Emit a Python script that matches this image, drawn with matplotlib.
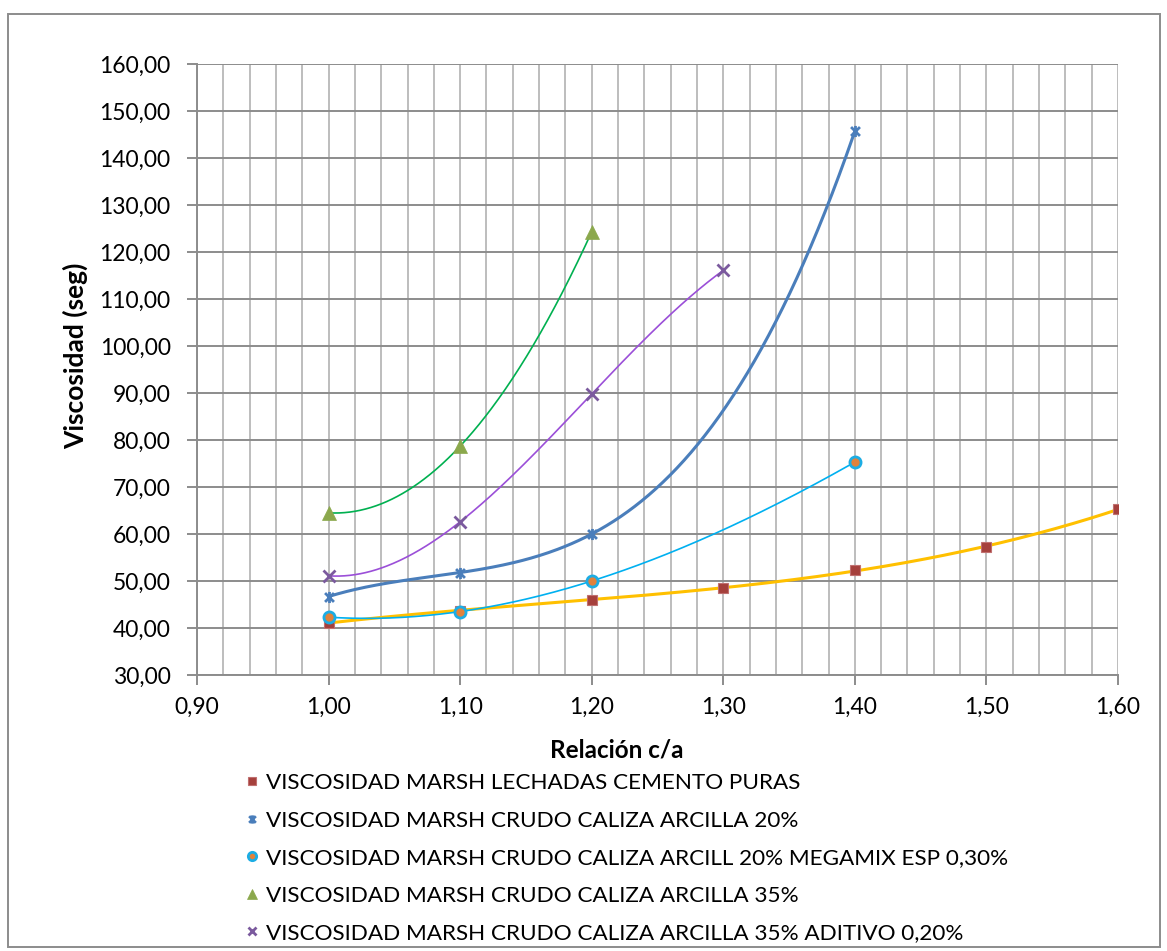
import numpy as np
import matplotlib
matplotlib.use("Agg")
import matplotlib.pyplot as plt
from matplotlib.path import Path
from matplotlib.ticker import FuncFormatter, MultipleLocator
from matplotlib.patches import Rectangle

plt.rcParams['font.family'] = ['Lato', 'DejaVu Sans']

# Marsh viscosity (seconds) against cement/water ratio
x_puras = [1.00, 1.10, 1.20, 1.30, 1.40, 1.50, 1.60]
y_puras = [41.1, 43.7, 46.0, 48.6, 52.3, 57.2, 65.3]

x_arc20 = [1.00, 1.10, 1.20, 1.40]
y_arc20 = [46.7, 51.8, 60.0, 145.7]

x_mega = [1.00, 1.10, 1.20, 1.40]
y_mega = [42.3, 43.5, 50.0, 75.3]

x_arc35 = [1.00, 1.10, 1.20]
y_arc35 = [64.5, 78.7, 124.3]

x_adit = [1.00, 1.10, 1.20, 1.30]
y_adit = [51.1, 62.6, 89.8, 116.1]

labels = [
    "VISCOSIDAD MARSH LECHADAS CEMENTO PURAS",
    "VISCOSIDAD MARSH CRUDO CALIZA ARCILLA 20%",
    "VISCOSIDAD MARSH CRUDO CALIZA ARCILL 20% MEGAMIX ESP 0,30%",
    "VISCOSIDAD MARSH CRUDO CALIZA ARCILLA 35%",
    "VISCOSIDAD MARSH CRUDO CALIZA ARCILLA 35% ADITIVO 0,20%",
]

# star marker: an x with a vertical bar through it
star = Path([(-1, -1), (1, 1), (-1, 1), (1, -1), (0, -1.25), (0, 1.25)],
            [Path.MOVETO, Path.LINETO, Path.MOVETO, Path.LINETO, Path.MOVETO, Path.LINETO])

series = [
    # x, y, trend degree, trend colour, trend width, marker kwargs
    (x_puras, y_puras, 3, '#FFC000', 2.2,
     dict(marker='s', ms=7.5, mfc='#A5403C', mec='#C07070', mew=0.8)),
    (x_arc20, y_arc20, 3, '#4A7EBB', 2.2,
     dict(marker=star, ms=8, mfc='none', mec='#4A7EBB', mew=2.0)),
    (x_mega, y_mega, 3, '#00B0F0', 1.2,
     dict(marker='o', ms=8, mfc='#E0823C', mec='#1CADE4', mew=2.0)),
    (x_arc35, y_arc35, 2, '#00B050', 1.2,
     dict(marker='^', ms=9.5, mfc='#8BA84C', mec='#8BA84C', mew=0.5)),
    (x_adit, y_adit, 3, '#9B4FD8', 1.2,
     dict(marker='x', ms=8, mfc='none', mec='#7B5A9E', mew=2.0)),
]

W, H = 1167, 951
fig = plt.figure(figsize=(W / 100, H / 100), dpi=100)
ax = fig.add_axes([197 / W, 1 - 675 / H, 921 / W, 611 / H])

handles = []
for (xs, ys, deg, tcol, tw, mk), lab in zip(series, labels):
    coef = np.polyfit(xs, ys, deg)
    xx = np.linspace(min(xs), max(xs), 300)
    ax.plot(xx, np.polyval(coef, xx), color=tcol, lw=tw, zorder=3)
    h, = ax.plot(xs, ys, ls='none', zorder=4, label=lab, **mk)
    handles.append(h)

ax.set_xlim(0.90, 1.60)
ax.set_ylim(30, 160)
ax.xaxis.set_major_locator(MultipleLocator(0.10))
ax.xaxis.set_minor_locator(MultipleLocator(0.02))
ax.yaxis.set_major_locator(MultipleLocator(10))
fmt = FuncFormatter(lambda v, p: f"{v:.2f}".replace('.', ','))
ax.xaxis.set_major_formatter(fmt)
ax.yaxis.set_major_formatter(fmt)

ax.grid(axis='y', which='major', color='#8C8C8C', lw=1.4)
ax.grid(axis='x', which='both', color='#BDBDBD', lw=1.4)
ax.set_axisbelow(True)
for s in ['top', 'right']:
    ax.spines[s].set_visible(False)
for s in ['left', 'bottom']:
    ax.spines[s].set_color('#8C8C8C')
    ax.spines[s].set_linewidth(1.4)
ax.tick_params(axis='both', which='major', direction='out', length=7, width=1.4,
               color='#8C8C8C', labelsize=16.5)
ax.tick_params(axis='y', pad=12)
ax.tick_params(axis='x', pad=9)
ax.tick_params(axis='x', which='minor', length=0)

ax.set_xlabel("Relación c/a", fontsize=17.5, fontweight='bold')
ax.set_ylabel("Viscosidad (seg)", fontsize=19, fontweight='bold')
ax.xaxis.set_label_coords((617 - 197) / 921, -(750 - 675) / 611)
ax.yaxis.set_label_coords(-(197 - 75) / 921, (675 - 356) / 611)
ax.xaxis.label.set_va('center')
ax.yaxis.label.set_va('center')

fig.legend(handles=handles, loc='upper left', bbox_to_anchor=(245 / W, 1 - 773 / H),
           frameon=False, fontsize=16.2, markerscale=0.75, handlelength=0.6,
           handletextpad=0.35, labelspacing=0.78, borderpad=0, borderaxespad=0)

# chart area border
fig.patches.append(Rectangle((8 / W, 4 / H), 1152 / W, 933 / H,
                             transform=fig.transFigure, fill=False,
                             edgecolor='#8C8C8C', lw=1.4))

fig.savefig("out.png", dpi=100)
